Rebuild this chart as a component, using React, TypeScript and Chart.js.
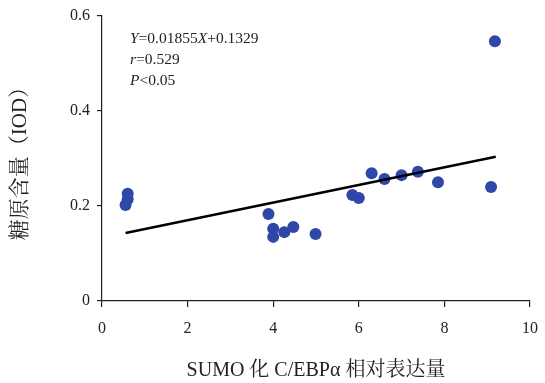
import React, { useEffect, useRef } from "react";
import { Chart, registerables } from "chart.js";

Chart.register(...registerables);

const xValues = [0.6, 0.6, 0.55, 3.89, 4.0, 4.0, 4.26, 4.47, 4.99, 5.85, 6.0, 6.3, 6.6, 7.0, 7.38, 7.85, 9.09, 9.18];
const yValues = [0.226, 0.214, 0.202, 0.183, 0.152, 0.135, 0.145, 0.156, 0.141, 0.223, 0.217, 0.269, 0.257, 0.265, 0.272, 0.250, 0.240, 0.547];
const fitX = [0.55, 9.2];
const fitY = [0.1431, 0.3036];
const xTicks = [0, 2, 4, 6, 8, 10];
const yTicks = [0, 0.2, 0.4, 0.6];
const annotation = [
  [["Y", true], ["=0.01855", false], ["X", true], ["+0.1329", false]],
  [["r", true], ["=0.529", false]],
  [["P", true], ["<0.05", false]],
] as [string, boolean][][];

const SERIF = "'Liberation Serif', 'Times New Roman', 'Noto Serif CJK SC', 'Noto Sans CJK SC', serif";

const annotationPlugin = {
  id: "annot",
  afterDatasetsDraw(chart: any) {
    const ctx = chart.ctx;
    const area = chart.chartArea;
    ctx.save();
    ctx.fillStyle = "#222";
    ctx.textBaseline = "alphabetic";
    annotation.forEach((line, i) => {
      let x = area.left + 28;
      const y = area.top + 27 + i * 21;
      line.forEach(([t, it]) => {
        ctx.font = `${it ? "italic " : ""}15.5px ${SERIF}`;
        ctx.fillText(t, x, y);
        x += ctx.measureText(t).width;
      });
    });
    ctx.restore();
  },
};

export default function App() {
  const ref = useRef<HTMLCanvasElement>(null);
  useEffect(() => {
    document.body.style.margin = "0";
    const points = xValues.map((x, i) => ({ x, y: yValues[i] }));
    const fit = fitX.map((x, i) => ({ x, y: fitY[i] }));
    const chart = new Chart(ref.current!, {
      type: "scatter",
      data: {
        datasets: [
          {
            type: "line",
            data: fit,
            borderColor: "#000",
            borderWidth: 2.5,
            pointRadius: 0,
            fill: false,
          } as any,
          {
            data: points,
            backgroundColor: "#2f47a8",
            borderColor: "#2f47a8",
            pointRadius: 6,
            borderWidth: 0,
          },
        ],
      },
      options: {
        animation: false,
        responsive: false,
        maintainAspectRatio: false,
        layout: { padding: { top: 16, right: 0, left: 8, bottom: 0 } },
        plugins: { legend: { display: false }, tooltip: { enabled: false } },
        scales: {
          x: {
            type: "linear",
            min: 0,
            max: 10,
            afterBuildTicks: (s: any) => { s.ticks = xTicks.map((v) => ({ value: v })); },
            afterFit: (s: any) => { s.height = 82; s.paddingRight = 15; },
            grid: { drawOnChartArea: false, drawTicks: true, tickLength: 6, color: "#222", lineWidth: 1.2 },
            border: { color: "#222", width: 1.2 },
            ticks: { color: "#222", font: { family: SERIF, size: 16 }, padding: 12, maxRotation: 0 },
            title: { display: true, text: "SUMO 化 C/EBPα 相对表达量", color: "#222", font: { family: SERIF, size: 20 }, padding: { top: 10, bottom: 0 } },
          },
          y: {
            type: "linear",
            min: 0,
            max: 0.6,
            afterBuildTicks: (s: any) => { s.ticks = yTicks.map((v) => ({ value: v })); },
            afterFit: (s: any) => { s.width = 94; s.paddingTop = 0; },
            grid: { drawOnChartArea: false, drawTicks: true, tickLength: 5, color: "#222", lineWidth: 1.2 },
            border: { color: "#222", width: 1.2 },
            ticks: { color: "#222", font: { family: SERIF, size: 16 }, padding: 7, callback: (v: any) => String(Number(v)) },
            title: { display: true, text: "糖原含量（IOD）", color: "#222", font: { family: SERIF, size: 21 }, padding: { top: 0, bottom: 0 } },
          },
        },
      },
      plugins: [annotationPlugin],
    } as any);
    return () => chart.destroy();
  }, []);
  return (
    <div style={{ position: "absolute", left: 0, top: 0, width: 545, height: 383, background: "#fff" }}>
      <canvas ref={ref} width={545} height={383} style={{ width: 545, height: 383 }} />
    </div>
  );
}
